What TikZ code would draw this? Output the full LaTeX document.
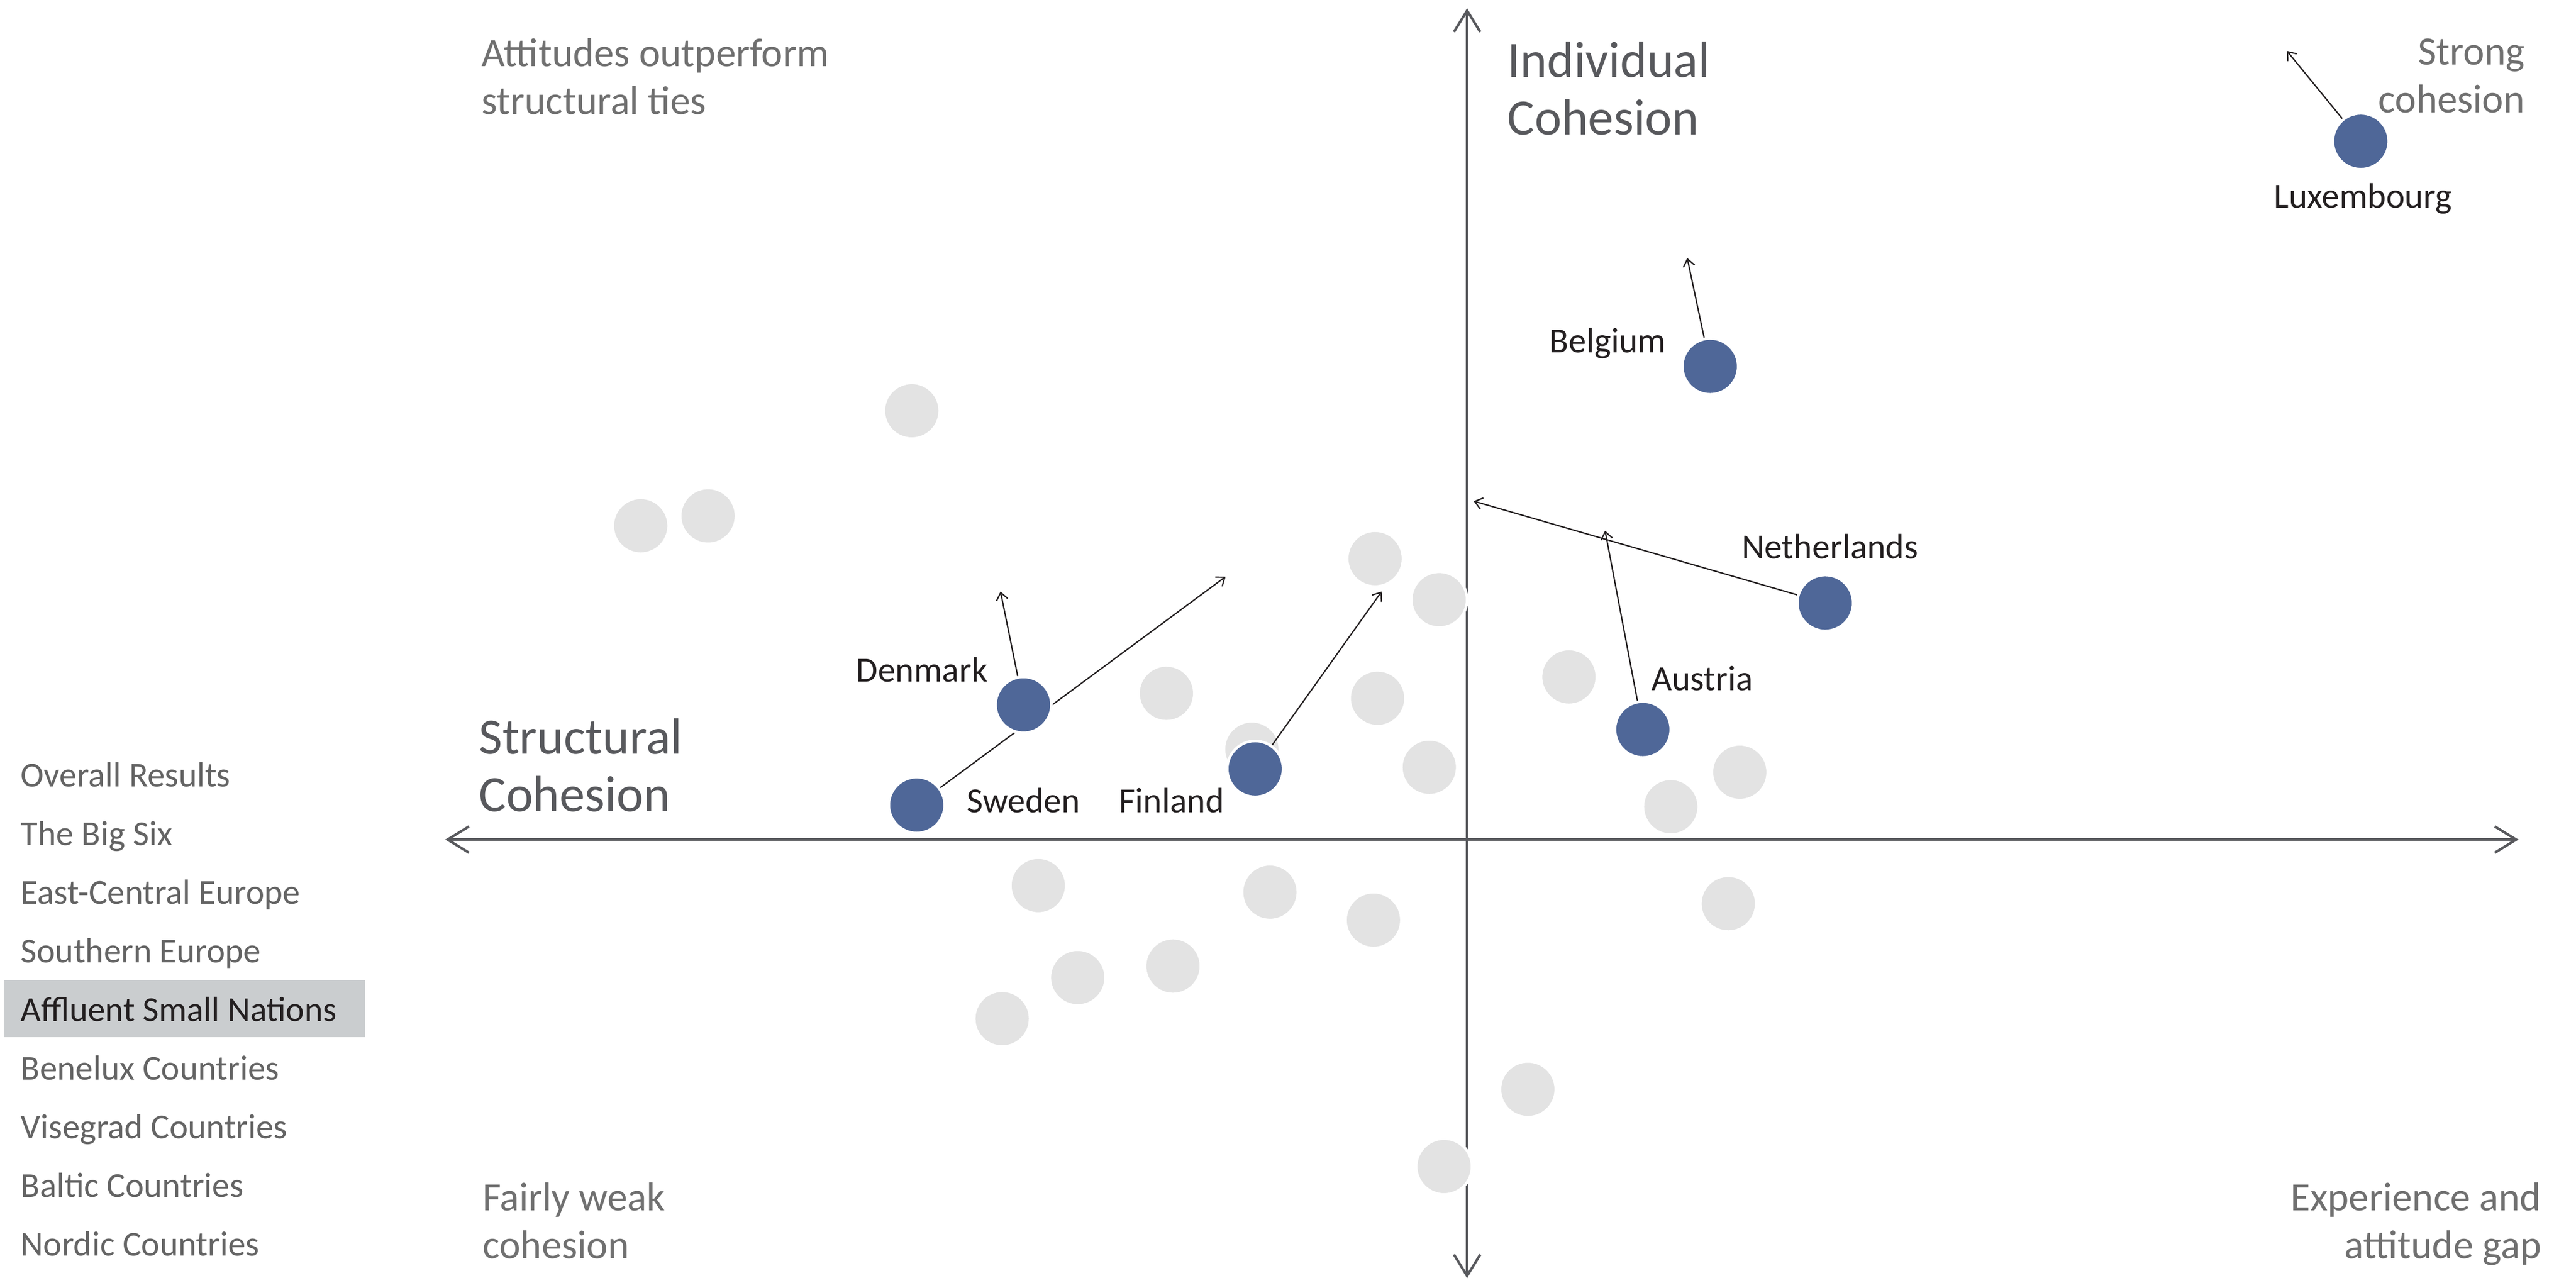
\documentclass[tikz,border=0pt]{standalone}
\usepackage{fontspec}
\setmainfont{Carlito}
\usetikzlibrary{arrows.meta}
\definecolor{axisgray}{RGB}{88,89,93}
\definecolor{cornergray}{RGB}{112,112,112}
\definecolor{listgray}{RGB}{100,100,100}
\definecolor{dotblue}{RGB}{79,103,152}
\definecolor{dotgray}{RGB}{227,227,227}
\definecolor{ink}{RGB}{35,31,32}
\definecolor{hilite}{RGB}{202,205,207}
\pgfdeclarelayer{bg}
\pgfdeclarelayer{mid}
\pgfsetlayers{bg,mid,main}
\begin{document}
\begin{tikzpicture}[x=1pt,y=-1pt,
 dot/.style={circle,inner sep=0pt,minimum size=34pt,draw=white,line width=1.6pt},
 bluedot/.style={dot,fill=dotblue},
 graydot/.style={dot,fill=dotgray},
 axisline/.style={draw=axisgray,line width=1.5pt,{Straight Barb[length=13pt,width=16pt]}-{Straight Barb[length=13pt,width=16pt]}},
 move/.style={draw=ink,line width=0.8pt,-{Straight Barb[length=4.5pt,width=7pt]}},
 country/.style={inner sep=0pt,anchor=base west,text=ink,font=\fontsize{21.5}{25}\selectfont},
 cornerL/.style={inner sep=0pt,anchor=base west,align=left,text=cornergray,font=\fontsize{24.5}{29}\selectfont},
 cornerR/.style={inner sep=0pt,anchor=base east,align=right,text=cornergray,font=\fontsize{24.5}{29}\selectfont},
 axislabel/.style={inner sep=0pt,anchor=base west,align=left,text=axisgray,font=\fontsize{31}{35}\selectfont},
 listitem/.style={inner sep=0pt,anchor=base west,text=listgray,font=\fontsize{21.3}{25}\selectfont},
]
% canvas
\useasboundingbox (0,0) rectangle (1568,780.6);

% blue countries (top layer)
\node[bluedot] (lux) at (1437,86) {};
\node[bluedot] (bel) at (1041,223) {};
\node[bluedot] (ned) at (1111,367) {};
\node[bluedot] (aut) at (1000,444) {};
\node[bluedot] (den) at (623,429) {};
\node[bluedot] (swe) at (558,490) {};
\node[bluedot] (fin) at (764,468) {};

% country labels
\node[country] (luxL) at (1384,126.4) {Luxembourg};
\node[country] (belL) at (943,214.5) {Belgium};
\node[country] (nedL) at (1060,340) {Netherlands};
\node[country] (autL) at (1005,420.3) {Austria};
\node[country] (denL) at (521,415) {Denmark};
\node[country] (sweL) at (588.4,494.6) {Sweden};
\node[country] (finL) at (681,494.6) {Finland};

% axis labels (anchor = baseline of the last line)
\node[axislabel] (ylab) at (917.5,82) {Individual\\Cohesion};
\node[axislabel] (xlab) at (291.4,494) {Structural\\Cohesion};

% corner texts (anchor = baseline of the last line)
\node[cornerL] (tl) at (293,69.5) {Attitudes outperform\\structural ties};
\node[cornerR] (tr) at (1537,68.6) {Strong\\cohesion};
\node[cornerL] (bl) at (293.6,766) {Fairly weak\\cohesion};
\node[cornerR] (br) at (1547,766) {Experience and\\attitude gap};

% legend
\fill[hilite] (2.3,596.5) rectangle (222.2,631.1);
\node[listitem] (l1) at (12.5,478.7) {Overall Results};
\node[listitem] (l2) at (12.5,514.4) {The Big Six};
\node[listitem] (l3) at (12.5,550.1) {East-Central Europe};
\node[listitem] (l4) at (12.5,585.8) {Southern Europe};
\node[listitem,text=ink] (l5) at (12.5,621.5) {Affluent Small Nations};
\node[listitem] (l6) at (12.5,657.2) {Benelux Countries};
\node[listitem] (l7) at (12.5,692.9) {Visegrad Countries};
\node[listitem] (l8) at (12.5,728.6) {Baltic Countries};
\node[listitem] (l9) at (12.5,764.3) {Nordic Countries};

\begin{pgfonlayer}{bg}
 \fill[white] (0,0) rectangle (1568,780.6);
 \coordinate (xl) at (271,511);
 \coordinate (xr) at (1533,511);
 \coordinate (yt) at (893,5);
 \coordinate (yb) at (893,778);
 \draw[axisline] (xl) -- (xr);
 \draw[axisline] (yb) -- (yt);
 \foreach \n/\x/\y in {g1/555/250, g2/390/320, g3/431/314, g4/837/340, g5/876/365,
   g6/710/422, g7/838.5/425, g8/762/456, g9/870/467, g10/955/412, g11/1059/470,
   g12/1017/491, g13/632/539, g14/773/543, g15/836/560, g16/1052/550, g17/656/595,
   g18/714/588, g19/610/620, g20/930/663, g21/879/710}
   {\node[graydot] (\n) at (\x,\y) {};}
\end{pgfonlayer}

\begin{pgfonlayer}{mid}
 \coordinate (luxE) at (1392,31);
 \coordinate (belE) at (1027,157);
 \coordinate (nedE) at (897,305);
 \coordinate (autE) at (977,323);
 \coordinate (denE) at (609,360);
 \coordinate (sweE) at (746,351);
 \coordinate (finE) at (841,360);
 \draw[move] (lux) -- (luxE);
 \draw[move] (bel) -- (belE);
 \draw[move] (ned) -- (nedE);
 \draw[move] (aut) -- (autE);
 \draw[move] (den) -- (denE);
 \draw[move] (swe) -- (sweE);
 \draw[move] (fin) -- (finE);
\end{pgfonlayer}
\end{tikzpicture}
\end{document}
